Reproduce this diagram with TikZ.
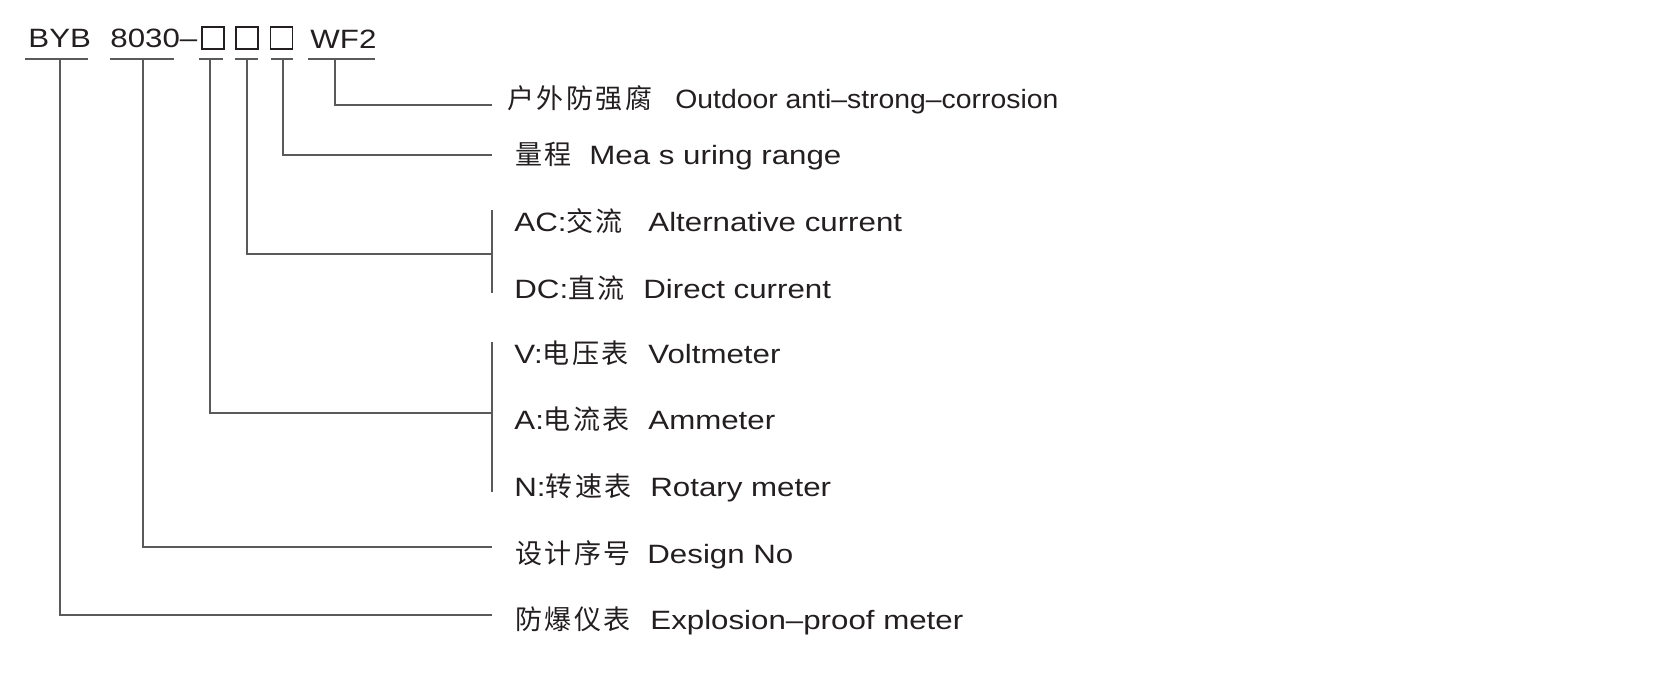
\documentclass[tikz,border=0pt]{standalone}
\usepackage{fontspec}
\setmainfont{Liberation Sans}[FakeStretch=1.18]
\newfontfamily\narrow{Liberation Sans}[FakeStretch=1.07]
\newfontfamily\cjk{Noto Sans CJK SC}[LetterSpace=9,Scale=1.02]
\usetikzlibrary{positioning}

\definecolor{ink}{HTML}{231F20}
\definecolor{wirec}{HTML}{5A5A5A}

\tikzset{
  hd/.style={anchor=base west, inner sep=0pt, text=ink},
  slot/.style={draw=ink, line width=0.6pt, minimum size=11pt, inner sep=0pt},
  cn/.style={anchor=base west, inner sep=0pt, text=ink},
  en/.style={anchor=base west, inner sep=0pt, text=ink},
  wire/.style={draw=wirec, line width=0.7pt},
}

\begin{document}
\begin{tikzpicture}[x=0.5pt, y=-0.5pt, font=\fontsize{13.25}{16}\selectfont]
  \useasboundingbox (0,0) rectangle (1656,696);

  \node[hd] (byb) at (28,47) {BYB};
  \node[hd] (model) at (110,47) {8030–};
  \node[slot] (s1) at (213,38) {};
  \node[slot] (s2) at (247,38) {};
  \node[slot] (s3) at (281.5,38) {};
  \node[hd] (wf) at (310,48) {WF2};

  \foreach \n/\l/\r/\v in {byb/25/88/60, model/110/174/143, kind/199/223/210,
                           cur/235/258/247, rng/271/293/283, wf/308/375/335} {
    \draw[wire] (\l,59) -- (\r,59);
    \coordinate (u-\n) at (\v,59);
  }

  \node[cn] (wf-cn) at (507,108) {\cjk 户外防强腐};
  \node[en] (wf-en) at (675,108) {\narrow Outdoor anti–strong–corrosion};
  \node[cn] (rng-cn) at (515,164) {\cjk 量程};
  \node[en] (rng-en) at (589,164) {Mea s uring range};
  \node[cn] (ac-cn) at (514,231) {AC:{\cjk 交流}};
  \node[en] (ac-en) at (648,231) {Alternative current};
  \node[cn] (dc-cn) at (514,298) {DC:{\cjk 直流}};
  \node[en] (dc-en) at (643,298) {Direct current};
  \node[cn] (v-cn) at (514,363) {V:{\cjk 电压表}};
  \node[en] (v-en) at (648,363) {Voltmeter};
  \node[cn] (a-cn) at (514,429) {A:{\cjk 电流表}};
  \node[en] (a-en) at (648,429) {Ammeter};
  \node[cn] (n-cn) at (514,496) {N:{\cjk 转速表}};
  \node[en] (n-en) at (650,496) {Rotary meter};
  \node[cn] (dn-cn) at (515,563) {\cjk 设计序号};
  \node[en] (dn-en) at (647,563) {Design No};
  \node[cn] (ex-cn) at (515,629) {\cjk 防爆仪表};
  \node[en] (ex-en) at (650,629) {Explosion–proof meter};

  \coordinate (j-wf) at (492,105);
  \coordinate (j-rng) at (492,155);
  \coordinate (j-cur) at (492,254);
  \coordinate (j-kind) at (492,413);
  \coordinate (j-model) at (492,547);
  \coordinate (j-byb) at (492,615);
  \coordinate (cur-t) at (492,210);
  \coordinate (cur-b) at (492,293);
  \coordinate (kind-t) at (492,342);
  \coordinate (kind-b) at (492,492);

  \draw[wire] (u-wf) |- (j-wf);
  \draw[wire] (u-rng) |- (j-rng);
  \draw[wire] (u-cur) |- (j-cur);
  \draw[wire] (u-kind) |- (j-kind);
  \draw[wire] (u-model) |- (j-model);
  \draw[wire] (u-byb) |- (j-byb);
  \draw[wire] (cur-t) -- (cur-b);
  \draw[wire] (kind-t) -- (kind-b);
\end{tikzpicture}
\end{document}
